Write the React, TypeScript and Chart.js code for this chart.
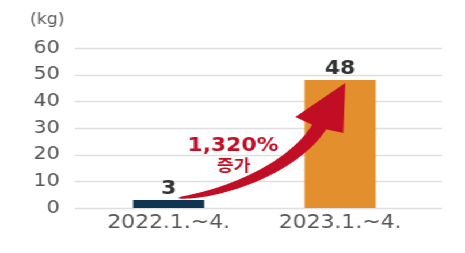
import React, { useEffect, useRef } from "react";
import { Chart, registerables } from "chart.js";

Chart.register(...registerables);

const categories = ["2022.1.~4.", "2023.1.~4."];
const values = [3, 48];
const barColors = ["#0e3551", "#e38f2e"];
const yTicks = [0, 10, 20, 30, 40, 50, 60];
const unitLabel = "(kg)";
const growthText = "1,320%";
const growthSub = "증가";

const FONT = "'DejaVu Sans', Verdana, sans-serif";
const W = 465;
const H = 253;
const STRETCH = 1.15;
const CW = Math.round(W / STRETCH);

const gridPlugin = {
  id: "extGrid",
  beforeDatasetsDraw(chart: any) {
    const { ctx, chartArea, scales } = chart;
    const y = scales.y;
    ctx.save();
    ctx.strokeStyle = "#dfdfdf";
    ctx.lineWidth = 1.5;
    yTicks.forEach((v) => {
      const py = Math.round(y.getPixelForValue(v)) + 0.5;
      ctx.beginPath();
      ctx.moveTo(chartArea.left - 7, py);
      ctx.lineTo(chartArea.right + 14, py);
      ctx.stroke();
    });
    ctx.fillStyle = "#555";
    ctx.font = `15px ${FONT}`;
    ctx.textAlign = "right";
    ctx.textBaseline = "middle";
    ctx.fillText(unitLabel, chartArea.left - 16, chartArea.top - 28);
    ctx.restore();
  },
};

const annotPlugin = {
  id: "annot",
  afterDatasetsDraw(chart: any) {
    const { ctx, scales } = chart;
    const meta = chart.getDatasetMeta(0);
    const b0 = meta.data[0];
    const b1 = meta.data[1];
    const y = scales.y;
    ctx.save();
    // value labels
    ctx.fillStyle = "#333";
    ctx.font = `bold 19px ${FONT}`;
    ctx.textAlign = "center";
    ctx.textBaseline = "alphabetic";
    values.forEach((v, i) => {
      const b = meta.data[i];
      ctx.fillText(String(v), b.x, b.y - 6);
    });

    // arrow
    const red = "#c20e25";
    const tail = { x: b0.x + 8, y: b0.y - 2 };
    const c1 = { x: b0.x + 53, y: b0.y - 6 };
    const tip = { x: b1.x + 4.5, y: b1.y + 3 };
    const wingL = { x: tip.x - 43.5, y: tip.y + 34 };
    const wingR = { x: tip.x - 1.7, y: tip.y + 50 };
    const neck = { x: (wingL.x + wingR.x) / 2 + 1, y: (wingL.y + wingR.y) / 2 };
    let dx = tip.x - neck.x;
    let dy = tip.y - neck.y;
    const dl = Math.hypot(dx, dy);
    dx /= dl;
    dy /= dl;
    const c2 = { x: neck.x - 45 * dx, y: neck.y - 45 * dy };
    const N = 50;
    const left: any[] = [];
    const right: any[] = [];
    for (let i = 0; i <= N; i++) {
      const t = i / N;
      const mt = 1 - t;
      const a = mt * mt * mt, b = 3 * mt * mt * t, c = 3 * mt * t * t, d = t * t * t;
      const px = a * tail.x + b * c1.x + c * c2.x + d * neck.x;
      const py = a * tail.y + b * c1.y + c * c2.y + d * neck.y;
      let tx = 3 * mt * mt * (c1.x - tail.x) + 6 * mt * t * (c2.x - c1.x) + 3 * t * t * (neck.x - c2.x);
      let ty = 3 * mt * mt * (c1.y - tail.y) + 6 * mt * t * (c2.y - c1.y) + 3 * t * t * (neck.y - c2.y);
      const tl = Math.hypot(tx, ty) || 1;
      tx /= tl;
      ty /= tl;
      const w = 6.5 * Math.pow(t, 0.5);
      left.push({ x: px + ty * w, y: py - tx * w });
      right.push({ x: px - ty * w, y: py + tx * w });
    }
    ctx.fillStyle = red;
    ctx.beginPath();
    ctx.moveTo(left[0].x, left[0].y);
    left.forEach((p) => ctx.lineTo(p.x, p.y));
    for (let i = right.length - 1; i >= 0; i--) ctx.lineTo(right[i].x, right[i].y);
    ctx.closePath();
    ctx.fill();
    ctx.beginPath();
    ctx.moveTo(tip.x, tip.y);
    ctx.lineTo(wingL.x, wingL.y);
    ctx.lineTo(neck.x - dx * 3, neck.y - dy * 3);
    ctx.lineTo(wingR.x, wingR.y);
    ctx.closePath();
    ctx.fill();

    // growth text
    const midX = (b0.x + b1.x) / 2 - 18.5;
    ctx.fillStyle = red;
    ctx.textBaseline = "middle";
    ctx.font = `bold 19px ${FONT}`;
    ctx.fillText(growthText, midX, y.getPixelForValue(23.2));
    ctx.font = `bold 16px 'Noto Sans CJK KR', ${FONT}`;
    ctx.fillText(growthSub, midX + 0.5, y.getPixelForValue(16.3));
    ctx.restore();
  },
};

export default function App() {
  const ref = useRef<HTMLCanvasElement>(null);
  useEffect(() => {
    if (!ref.current) return;
    const chart = new Chart(ref.current, {
      type: "bar",
      data: {
        labels: categories,
        datasets: [
          {
            data: values,
            backgroundColor: barColors,
            barPercentage: 0.83,
            categoryPercentage: 0.5,
          },
        ],
      },
      options: {
        responsive: false,
        animation: false,
        layout: { padding: { top: 48, right: CW - 370, left: 0, bottom: 0 } },
        plugins: { legend: { display: false }, tooltip: { enabled: false } },
        scales: {
          y: {
            min: 0,
            max: 60,
            ticks: {
              stepSize: 10,
              color: "#555",
              font: { family: FONT, size: 18 },
              padding: 20,
            },
            grid: { display: false, drawTicks: false },
            border: { display: false },
            afterFit: (s: any) => {
              s.width = 72;
            },
          },
          x: {
            ticks: {
              color: "#555",
              font: { family: FONT, size: 19 },
              padding: 4,
            },
            grid: { display: false, drawTicks: false },
            border: { display: false },
            afterFit: (s: any) => {
              s.height = 45;
            },
          },
        },
      },
      plugins: [gridPlugin, annotPlugin],
    });
    return () => chart.destroy();
  }, []);
  return (
    <div
      style={{
        position: "fixed",
        left: 0,
        top: 0,
        width: CW,
        height: H,
        background: "#fff",
        transform: `scaleX(${W / CW})`,
        transformOrigin: "0 0",
      }}
    >
      <canvas ref={ref} width={CW} height={H} style={{ display: "block" }} />
    </div>
  );
}
